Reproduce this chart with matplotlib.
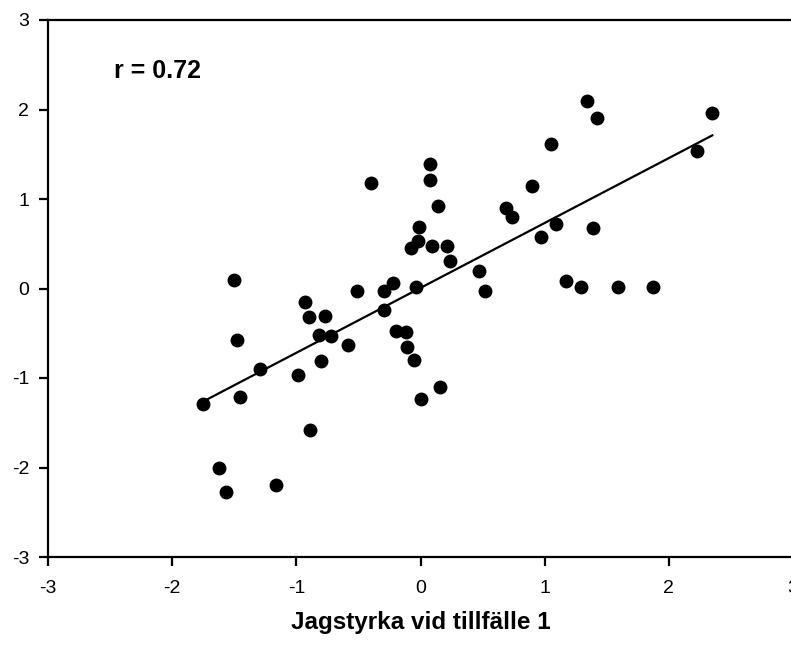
import numpy as np
import matplotlib
matplotlib.use('Agg')
import matplotlib.pyplot as plt

plt.rcParams['font.family'] = ['Liberation Sans', 'DejaVu Sans']

# Jagstyrka vid tillfälle 1 (x) and tillfälle 2 (y)
x_vals = [-1.75, -1.50, -1.48, -1.45, -1.62, -1.57, -1.16, -1.29, -0.99, -0.93,
          -0.90, -0.89, -0.82, -0.77, -0.80, -0.72, -0.58, -0.51, -0.40, -0.29,
          -0.29, -0.22, -0.20, -0.12, -0.11, -0.05, 0.00, 0.16, -0.04, -0.08,
          -0.02, -0.01, 0.08, 0.08, 0.14, 0.09, 0.21, 0.24, 0.47, 0.52,
          0.69, 0.74, 0.90, 0.97, 1.09, 1.05, 1.17, 1.29, 1.34, 1.42,
          1.39, 1.59, 1.87, 2.23, 2.35]
y_vals = [-1.29, 0.10, -0.58, -1.21, -2.00, -2.27, -2.20, -0.90, -0.97, -0.15,
          -0.32, -1.58, -0.52, -0.31, -0.81, -0.53, -0.63, -0.03, 1.18, -0.03,
          -0.24, 0.06, -0.48, -0.49, -0.65, -0.80, -1.23, -1.10, 0.02, 0.45,
          0.53, 0.69, 1.39, 1.21, 0.92, 0.48, 0.47, 0.31, 0.19, -0.03,
          0.90, 0.80, 1.15, 0.58, 0.72, 1.62, 0.08, 0.02, 2.10, 1.91,
          0.68, 0.02, 0.02, 1.54, 1.96]
r_text = 'r = 0.72'
ticks = [-3, -2, -1, 0, 1, 2, 3]

x = np.array(x_vals)
y = np.array(y_vals)

fig = plt.figure(figsize=(7.91, 6.46), dpi=100)
ax = fig.add_axes([48/791, (646-557)/646, (793-48)/791, (557-20)/646])

ax.scatter(x, y, s=100, color='black', zorder=3, linewidths=0)

# least squares line over the range of the data
k, m = np.polyfit(x, y, 1)
xl = np.array([x.min(), x.max()])
ax.plot(xl, k*xl + m, color='black', lw=1.6, zorder=2)

ax.set_xlim(-3, 3)
ax.set_ylim(-3, 3)
ax.set_xticks(ticks)
ax.set_yticks(ticks)
ax.set_xticklabels([str(t) for t in ticks])
ax.set_yticklabels([str(t) for t in ticks])

for s in ax.spines.values():
    s.set_linewidth(1.6)

ax.tick_params(axis='both', direction='out', length=6.5, width=1.6, labelsize=14)
ax.tick_params(axis='x', pad=10)
ax.tick_params(axis='y', pad=7)

ax.text(-2.47, 2.43, r_text, fontsize=18, fontweight='bold', va='center', ha='left')

ax.set_xlabel('Jagstyrka vid tillfälle 1', fontsize=17.5, fontweight='bold', labelpad=10)

fig.savefig('out.png', dpi=100)
